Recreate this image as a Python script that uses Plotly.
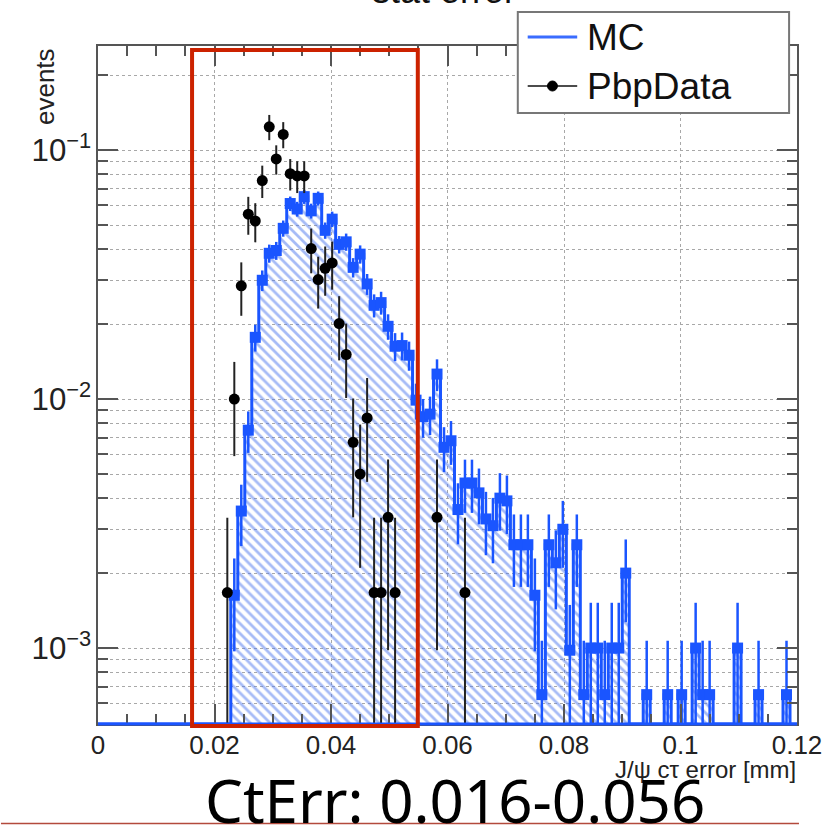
import plotly.graph_objects as go

# ---------------- data ----------------
X_RANGE = [0.0, 0.12]
Y_RANGE_LOG = [-3.305, -0.582]
BIN_WIDTH = 0.0012

# MC histogram, 100 bins of width 0.0012 from 0 to 0.12
mc_values = [
    0, 0, 0, 0, 0, 0, 0, 0, 0, 0,
    0, 0, 0, 0, 0, 0, 0, 0, 0, 0.00163,
    0.00355, 0.0075, 0.0177, 0.0300, 0.0385, 0.0395, 0.0485, 0.0610, 0.0580, 0.0650,
    0.0570, 0.0640, 0.0476, 0.0528, 0.0418, 0.0428, 0.0338, 0.0382, 0.0290, 0.0238,
    0.0244, 0.0196, 0.0163, 0.0164, 0.0150, 0.0099, 0.0085, 0.0087, 0.0126, 0.0064,
    0.0068, 0.0036, 0.0046, 0.0046, 0.0042, 0.0033, 0.0031, 0.0040, 0.0039, 0.0026,
    0.0026, 0.0026, 0.00163, 0.00065, 0.0026, 0.0022, 0.0030, 0.00098, 0.0026, 0.00065,
    0.0010, 0.0010, 0.00065, 0.0010, 0.0010, 0.0020, 0, 0, 0.00065, 0,
    0, 0.00065, 0, 0.00065, 0, 0.0010, 0.00065, 0.00065, 0, 0,
    0, 0.0010, 0, 0, 0.00065, 0, 0, 0, 0.00065, 0,
]
mc_errors = [
    0, 0, 0, 0, 0, 0, 0, 0, 0, 0,
    0, 0, 0, 0, 0, 0, 0, 0, 0, 0.00066,
    0.00098, 0.00142, 0.00219, 0.00285, 0.00322, 0.00327, 0.00362, 0.00406, 0.00396, 0.00419,
    0.00392, 0.00416, 0.00358, 0.00378, 0.00336, 0.0034, 0.00302, 0.00321, 0.0028, 0.00253,
    0.00257, 0.0023, 0.0021, 0.0021, 0.00201, 0.00163, 0.00151, 0.00153, 0.00184, 0.00131,
    0.00136, 0.00099, 0.00111, 0.00111, 0.00106, 0.00094, 0.00091, 0.00104, 0.00103, 0.00084,
    0.00084, 0.00084, 0.00066, 0.00042, 0.00084, 0.00077, 0.0009, 0.00051, 0.00084, 0.00042,
    0.00052, 0.00052, 0.00042, 0.00052, 0.00052, 0.00073, 0, 0, 0.00042, 0,
    0, 0.00042, 0, 0.00042, 0, 0.00052, 0.00042, 0.00042, 0, 0,
    0, 0.00052, 0, 0, 0.00042, 0, 0, 0, 0.00042, 0,
]

# PbP data points
data_x = [0.0222, 0.0234, 0.0246, 0.0258, 0.0270, 0.0282, 0.0294, 0.0306, 0.0318,
          0.0330, 0.0342, 0.0354, 0.0366, 0.0378, 0.0390, 0.0402, 0.0414, 0.0426,
          0.0438, 0.0450, 0.0462, 0.0474, 0.0486, 0.0498, 0.0510, 0.0582, 0.0630]
data_values = [0.00167, 0.0100, 0.0285, 0.0553, 0.0519, 0.0754, 0.1240, 0.0921, 0.1156,
               0.0804, 0.0787, 0.0787, 0.0402, 0.0302, 0.0335, 0.0352, 0.0201, 0.0151,
               0.0067, 0.0050, 0.0084, 0.00167, 0.00167, 0.00335, 0.00167, 0.00335, 0.00167]
data_errors = [0.00167, 0.0041, 0.0069, 0.0096, 0.0093, 0.0112, 0.0144, 0.0124, 0.0139,
               0.0116, 0.0115, 0.0115, 0.0082, 0.0071, 0.0075, 0.0077, 0.0058, 0.0050,
               0.00335, 0.0029, 0.00375, 0.00167, 0.00167, 0.00237, 0.00167, 0.00237, 0.00167]

TITLE = "stat error"
X_TITLE = "J/ψ cτ error [mm]"
Y_TITLE = "events"
LEGEND_NAMES = ["MC", "PbpData"]
CAPTION = "CtErr: 0.016-0.056"

# ---------------- derived ----------------
n = len(mc_values)
centers = [BIN_WIDTH * (i + 0.5) for i in range(n)]
edges = [BIN_WIDTH * i for i in range(n + 1)]
nz = [i for i, v in enumerate(mc_values) if v > 0]
floor = 10 ** Y_RANGE_LOG[0]
step_y = [max(v, floor) for v in mc_values] + [max(mc_values[-1], floor)]

BLUE = "#1a55ff"
FRAME = "#555555"
GRID = "#a8a8a8"

fig = go.Figure()

# hatched fill
fig.add_trace(go.Bar(
    x=[centers[i] for i in nz], y=[mc_values[i] for i in nz], width=BIN_WIDTH,
    marker=dict(color="rgba(255,255,255,0)", line=dict(width=0),
                pattern=dict(shape="\\", fgcolor="#4d78ee", bgcolor="rgba(255,255,255,0)",
                             size=7, solidity=0.4, fillmode="overlay")),
    hoverinfo="skip", showlegend=False))

# histogram outline
fig.add_trace(go.Scatter(x=edges, y=step_y, mode="lines",
                         line=dict(color=BLUE, width=3, shape="hv"),
                         hoverinfo="skip", showlegend=False))

# MC markers with errors
fig.add_trace(go.Scatter(
    x=[centers[i] for i in nz], y=[mc_values[i] for i in nz], mode="markers",
    marker=dict(symbol="square", size=11, color=BLUE),
    error_y=dict(type="data", array=[mc_errors[i] for i in nz], color=BLUE, thickness=2.5, width=0),
    name=LEGEND_NAMES[0], showlegend=False))

# data
fig.add_trace(go.Scatter(
    x=data_x, y=data_values, mode="markers",
    marker=dict(symbol="circle", size=11, color="black"),
    error_y=dict(type="data", array=data_errors, color="#222222", thickness=2, width=0),
    name=LEGEND_NAMES[1], showlegend=False))

W, H = 834, 825
L, R, T, B = 98, 30, 46, 101
PW, PH = W - L - R, H - T - B


def px(xp):
    return (xp - L) / PW


def py(yp):
    return (H - B - yp) / PH


fig.update_layout(
    width=W, height=H, margin=dict(l=L, r=R, t=T, b=B),
    paper_bgcolor="white", plot_bgcolor="white", bargap=0, showlegend=False,
    font=dict(family="Liberation Sans", color="#111111"),
)
fig.update_xaxes(
    range=X_RANGE, tick0=0, dtick=0.02, ticks="inside", ticklen=20, tickwidth=1.5,
    tickcolor=FRAME, showline=True, linecolor=FRAME, linewidth=1.5, mirror="ticks",
    showgrid=True, gridcolor=GRID, griddash="dot", gridwidth=1, zeroline=False,
    tickfont=dict(size=26, color="#222222"), ticklabelstandoff=-3,
    minor=dict(dtick=0.005, ticks="inside", ticklen=10, tickwidth=1.5, tickcolor=FRAME, showgrid=False),
)
fig.update_yaxes(
    type="log", range=Y_RANGE_LOG, dtick=1, exponentformat="power",
    ticks="inside", ticklen=20, tickwidth=1.5, tickcolor=FRAME,
    showline=True, linecolor=FRAME, linewidth=1.5, mirror="ticks",
    showgrid=True, gridcolor=GRID, griddash="dot", gridwidth=1, zeroline=False,
    tickfont=dict(size=25, color="#222222"),
    minor=dict(dtick="D1", ticks="inside", ticklen=10, tickwidth=1.5, tickcolor=FRAME,
               showgrid=True, gridcolor=GRID, griddash="dot", gridwidth=1),
)

shapes = []
# blue base line of histogram
shapes.append(dict(type="line", xref="paper", yref="paper", x0=0, x1=1, y0=0, y1=0,
                   line=dict(color=BLUE, width=3), layer="above"))
# legend box
shapes.append(dict(type="rect", xref="paper", yref="paper", x0=px(522), x1=px(796), y0=py(113), y1=py(12),
                   line=dict(color="#777777", width=2), fillcolor="white", layer="above"))
shapes.append(dict(type="line", xref="paper", yref="paper", x0=px(532), x1=px(582), y0=py(37), y1=py(37),
                   line=dict(color="#3a6cff", width=3), layer="above"))
shapes.append(dict(type="line", xref="paper", yref="paper", x0=px(532), x1=px(582), y0=py(86), y1=py(86),
                   line=dict(color="#111111", width=1.5), layer="above"))
shapes.append(dict(type="circle", xref="paper", yref="paper", x0=px(552), x1=px(562), y0=py(91), y1=py(81),
                   line=dict(color="black", width=1), fillcolor="black", layer="above"))
# red selection box
shapes.append(dict(type="rect", xref="paper", yref="paper", x0=px(193), x1=px(421), y0=py(726), y1=py(50),
                   line=dict(color="#cc2200", width=4), layer="above"))
# thin red line at bottom
shapes.append(dict(type="line", xref="paper", yref="paper", x0=px(0), x1=px(806), y0=py(823.5), y1=py(823.5),
                   line=dict(color="#b34a3c", width=1.5), layer="above"))
fig.update_layout(shapes=shapes)

annotations = [
    dict(text=TITLE, x=px(447), y=py(-9), xref="paper", yref="paper", showarrow=False,
         xanchor="center", yanchor="middle", font=dict(size=36, color="#111111")),
    dict(text=Y_TITLE, x=px(44), y=py(46), xref="paper", yref="paper", showarrow=False,
         textangle=-90, xanchor="center", yanchor="top", font=dict(size=26, color="#222222")),
    dict(text=X_TITLE, x=px(805), y=py(769), xref="paper", yref="paper", showarrow=False,
         xanchor="right", yanchor="middle", font=dict(size=24, color="#222222")),
    dict(text=LEGEND_NAMES[0], x=px(590), y=py(37), xref="paper", yref="paper", showarrow=False,
         xanchor="left", yanchor="middle", font=dict(size=37, color="#111111")),
    dict(text=LEGEND_NAMES[1], x=px(590), y=py(86), xref="paper", yref="paper", showarrow=False,
         xanchor="left", yanchor="middle", font=dict(size=37, color="#111111")),
    dict(text=CAPTION, x=px(459), y=py(800), xref="paper", yref="paper", showarrow=False,
         xanchor="center", yanchor="middle", font=dict(size=60, color="black", family="Noto Sans")),
]
fig.update_layout(annotations=annotations)

fig.write_html("out.html")
